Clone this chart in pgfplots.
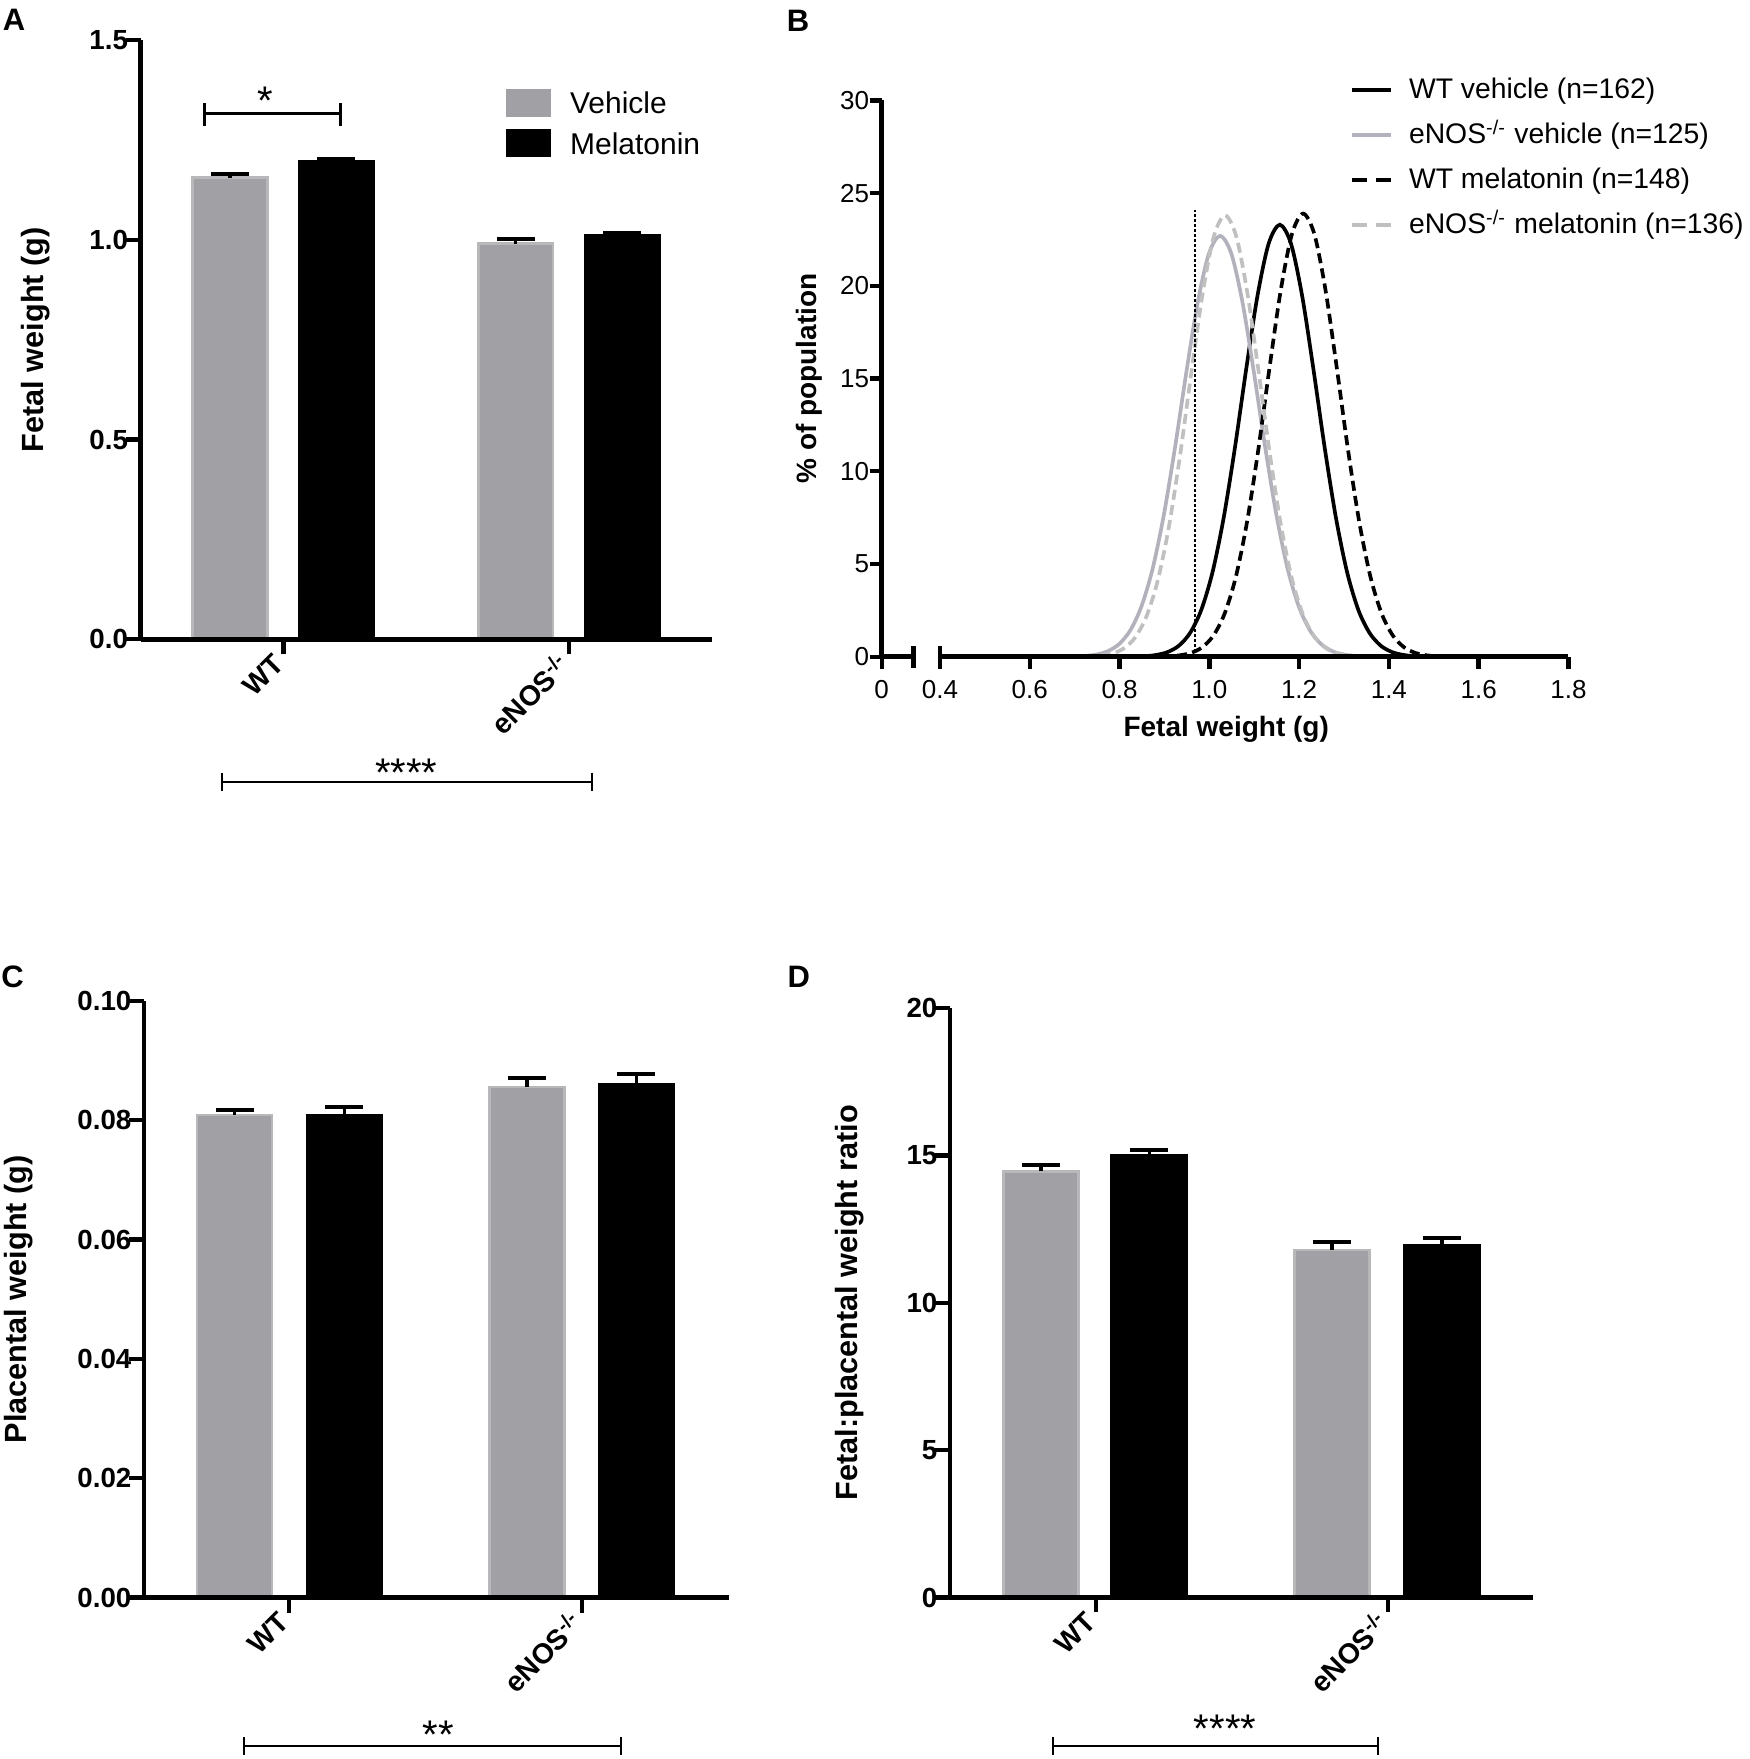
\documentclass[border=0pt]{standalone}
\usepackage{pgfplots}
\pgfplotsset{compat=1.18}
\usepackage{fontspec}
\setmainfont{Liberation Sans}

\definecolor{barGray}{RGB}{161,161,165}
\definecolor{barEdge}{RGB}{184,184,186}
\definecolor{lineGray}{RGB}{178,178,188}
\definecolor{dashGray}{RGB}{192,192,192}

\newcommand{\fs}[1]{\fontsize{#1}{#1}\selectfont}

\pgfplotsset{
  barpanel/.style={
    scale only axis, axis on top, clip=false,
    axis lines=left, axis line style={-, line width=1.4pt},
    tick align=outside, major tick length=4.5pt,
    tick style={line width=1.3pt, black},
    xtick={0,1}, xticklabels={WT, eNOS\textsuperscript{-/-}},
    xticklabel style={rotate=45, anchor=east, xshift=1.5pt, font=\bfseries\fs{8.5}},
    yticklabel style={font=\bfseries\fs{8.3}, inner xsep=0pt, xshift=0.9pt},
    ylabel style={font=\bfseries\fs{9.2}, anchor=center},
    /pgf/number format/assume math mode=true,
    scaled y ticks=false,
    ymin=0,
  },
  errstyle/.style={
    error bars/y dir=plus, error bars/y explicit, error bars/error mark=|,
    error bars/error bar style={line width=1pt, black},
    error bars/error mark options={line width=1.2pt, black, mark size=5.7pt},
  },
  vehbar/.style={ybar, bar shift=0pt, fill=barGray, draw=barEdge, line width=0.8pt, errstyle,
    legend image code/.code={\path[use as bounding box, draw=none] (0pt,0pt) rectangle (13.5pt,0pt);
      \fill[barGray, draw=none] (0pt,-4.2pt) rectangle (13.5pt,4.2pt);}},
  melbar/.style={ybar, bar shift=0pt, fill=black, draw=black, line width=0.8pt, errstyle,
    legend image code/.code={\path[use as bounding box, draw=none] (0pt,0pt) rectangle (13.5pt,0pt);
      \fill[black, draw=none] (0pt,-4.2pt) rectangle (13.5pt,4.2pt);}},
}

\begin{document}
\begin{tikzpicture}
\path[use as bounding box] (0,0) rectangle (525pt,527.7pt);

% ---------------- Panel A ----------------
\begin{axis}[barpanel, at={(42.18pt,335.91pt)}, anchor=south west,
  width=171.33pt, height=179.79pt, xmin=-0.5005, xmax=1.4998, ymax=1.5,
  ytick={0,0.5,1,1.5}, yticklabels={0.0,0.5,1.0,1.5},
  ylabel={Fetal weight (g)},
  ylabel style={at={(axis description cs:-0.1846,0.5)}},
  legend style={at={(0.640,0.9134)}, anchor=north west, draw=none, fill=none,
    inner sep=0pt, outer sep=0pt, column sep=5.7pt, row sep=5.5pt, font=\fs{9},
    nodes={inner sep=0pt, text height=6.6pt, text depth=0pt}},
  legend cell align=left]
\addplot[vehbar, bar width=0.262] coordinates {(-0.187,1.155) +- (0,0.010) (0.813,0.990) +- (0,0.013)};
\addlegendentry{Vehicle}
\addplot[melbar, bar width=0.262] coordinates {(0.185,1.196) +- (0,0.005) (1.187,1.010) +- (0,0.007)};
\addlegendentry{Melatonin}
\end{axis}

% ---------------- Panel B ----------------
\begin{axis}[scale only axis, clip=false, at={(264.51pt,330.69pt)}, anchor=south west,
  width=206.01pt, height=166.86pt, xmin=0.270, xmax=1.8, ymin=0, ymax=30,
  axis x line=bottom, axis y line=left, axis line style={-, line width=1.4pt},
  x axis line style={draw=none},
  tick align=outside, major tick length=3.6pt, tick style={line width=1.3pt, black},
  xtick={0.270,0.4,0.6,0.8,1.0,1.2,1.4,1.6,1.8},
  xticklabels={0,0.4,0.6,0.8,1.0,1.2,1.4,1.6,1.8},
  ytick={0,5,10,15,20,25,30},
  tick label style={font=\fs{7.8}},
  yticklabel style={inner xsep=0pt},
  /pgf/number format/assume math mode=true,
  xlabel={Fetal weight (g)},
  xlabel style={at={(axis description cs:0.5017,-0.1307)}, anchor=center, font=\bfseries\fs{8.4}},
  ylabel={\% of population},
  ylabel style={at={(axis description cs:-0.1048,0.5)}, anchor=center, font=\bfseries\fs{8.4}},
  legend style={at={(0.6849,1.0419)}, anchor=north west, draw=none, fill=none,
    inner sep=0pt, outer sep=0pt, column sep=5.4pt, row sep=5.2pt, font=\fs{8.5},
    nodes={inner sep=0pt, text height=6.5pt, text depth=1.8pt}},
  legend cell align=left]
\addplot[black, line width=1.1pt, smooth,
  legend image code/.code={\path[use as bounding box, draw=none] (0pt,0pt) rectangle (11.7pt,0pt);
    \draw[black, line width=1.4pt, solid] (0pt,0.3pt) -- (11.7pt,0.3pt);}]
  coordinates {(0.80,0) (0.857,0.034) (0.882,0.096) (0.907,0.250) (0.932,0.591) (0.957,1.278)
  (0.982,2.52) (1.007,4.55) (1.032,7.50) (1.057,11.27) (1.082,15.49) (1.107,19.43) (1.132,22.27)
  (1.157,23.3) (1.182,22.27) (1.207,19.43) (1.232,15.49) (1.257,11.27) (1.282,7.50) (1.307,4.55)
  (1.332,2.52) (1.357,1.278) (1.382,0.591) (1.407,0.250) (1.432,0.096) (1.457,0.034) (1.51,0)};
\addlegendentry{WT vehicle (n=162)}
\addplot[lineGray, line width=1.1pt, smooth,
  legend image code/.code={\path[use as bounding box, draw=none] (0pt,0pt) rectangle (11.7pt,0pt);
    \draw[lineGray, line width=1.4pt, solid] (0pt,0.3pt) -- (11.7pt,0.3pt);}]
  coordinates {(0.65,0) (0.699,0.015) (0.724,0.045) (0.749,0.121) (0.774,0.300) (0.799,0.683)
  (0.824,1.425) (0.849,2.73) (0.874,4.78) (0.899,7.70) (0.924,11.36) (0.949,15.38) (0.974,19.09)
  (0.999,21.74) (1.024,22.7) (1.049,21.74) (1.074,19.09) (1.099,15.38) (1.124,11.36) (1.149,7.70)
  (1.174,4.78) (1.199,2.73) (1.224,1.425) (1.249,0.683) (1.274,0.300) (1.299,0.121) (1.324,0.045)
  (1.349,0.015) (1.40,0)};
\addlegendentry{eNOS\textsuperscript{-/-} vehicle (n=125)}
\addplot[black, line width=1.1pt, smooth, dash pattern=on 3pt off 1.6pt,
  legend image code/.code={\path[use as bounding box, draw=none] (0pt,0pt) rectangle (11.7pt,0pt);
    \draw[black, line width=1.4pt, dash pattern=on 4.5pt off 2.7pt] (0pt,0.3pt) -- (11.7pt,0.3pt);}]
  coordinates {(0.86,0) (0.909,0.025) (0.934,0.075) (0.959,0.204) (0.984,0.505) (1.009,1.134)
  (1.034,2.32) (1.059,4.30) (1.084,7.27) (1.109,11.15) (1.134,15.57) (1.159,19.75) (1.184,22.79)
  (1.209,23.9) (1.234,22.79) (1.259,19.75) (1.284,15.57) (1.309,11.15) (1.334,7.27) (1.359,4.30)
  (1.384,2.32) (1.409,1.134) (1.434,0.505) (1.459,0.204) (1.484,0.075) (1.509,0.025) (1.56,0)};
\addlegendentry{WT melatonin (n=148)}
\addplot[dashGray, line width=1.1pt, smooth, dash pattern=on 3pt off 1.6pt,
  legend image code/.code={\path[use as bounding box, draw=none] (0pt,0pt) rectangle (11.7pt,0pt);
    \draw[dashGray, line width=1.4pt, dash pattern=on 4.5pt off 2.7pt] (0pt,0.3pt) -- (11.7pt,0.3pt);}]
  coordinates {(0.69,0) (0.735,0.021) (0.760,0.065) (0.785,0.180) (0.810,0.456) (0.835,1.046)
  (0.860,2.18) (0.885,4.10) (0.910,7.02) (0.935,10.90) (0.960,15.34) (0.985,19.58) (1.010,22.67)
  (1.035,23.8) (1.060,22.67) (1.085,19.58) (1.110,15.34) (1.135,10.90) (1.160,7.02) (1.185,4.10)
  (1.210,2.18) (1.235,1.046) (1.260,0.456) (1.285,0.180) (1.310,0.065) (1.335,0.021) (1.38,0)};
\addlegendentry{eNOS\textsuperscript{-/-} melatonin (n=136)}
\addplot[black, line width=0.75pt, dash pattern=on 0.75pt off 0.75pt, forget plot]
  coordinates {(0.968,0) (0.968,24.1)};
% broken x axis line
\draw[line width=1.4pt] (axis cs:0.270,0) -- (axis cs:0.3405,0);
\draw[line width=1.4pt] (axis cs:0.4,0) -- (axis cs:1.8,0);
\draw[line width=1.3pt] (axis cs:0.3405,0) ++(0pt,-3.3pt) -- ++(0pt,6.6pt);
\draw[line width=1.3pt] (axis cs:0.4,0) ++(0pt,-3.3pt) -- ++(0pt,6.6pt);
\end{axis}

% ---------------- Panel C ----------------
\begin{axis}[barpanel, at={(43.2pt,48.45pt)}, anchor=south west,
  width=175.5pt, height=178.95pt, xmin=-0.495, xmax=1.502, ymax=0.1,
  ytick={0,0.02,0.04,0.06,0.08,0.1}, yticklabels={0.00,0.02,0.04,0.06,0.08,0.10},
  ylabel={Placental weight (g)},
  ylabel style={at={(axis description cs:-0.2148,0.5)}}]
\addplot[vehbar, bar width=0.255] coordinates {(-0.186,0.0809) +- (0,0.0009) (0.812,0.0856) +- (0,0.0015)};
\addplot[melbar, bar width=0.255] coordinates {(0.189,0.0808) +- (0,0.0014) (1.186,0.0861) +- (0,0.0016)};
\end{axis}

% ---------------- Panel D ----------------
\begin{axis}[barpanel, at={(285pt,48.45pt)}, anchor=south west,
  width=174.9pt, height=176.85pt, xmin=-0.5, xmax=1.497, ymax=20,
  ytick={0,5,10,15,20},
  ylabel={Fetal:placental weight ratio},
  ylabel style={at={(axis description cs:-0.1715,0.5)}}]
\addplot[vehbar, bar width=0.258] coordinates {(-0.188,14.46) +- (0,0.21) (0.808,11.79) +- (0,0.27)};
\addplot[melbar, bar width=0.258] coordinates {(0.183,14.99) +- (0,0.19) (1.185,11.96) +- (0,0.25)};
\end{axis}

% ---------------- annotations (pixel coordinates) ----------------
\begin{scope}[x=0.3pt, y=-0.3pt, shift={(0pt,527.7pt)}]
  \node[font=\bfseries\fs{9.3}] at (14,20) {A};
  \node[font=\bfseries\fs{9.3}] at (798,20.5) {B};
  \node[font=\bfseries\fs{9.3}] at (12.5,977) {C};
  \node[font=\bfseries\fs{9.3}] at (798.7,977) {D};
  % A: * bracket
  \draw[line width=0.9pt] (204.3,103.3) -- (204.3,125.7);
  \draw[line width=0.9pt] (204.3,113.3) -- (340,113.3);
  \draw[line width=0.9pt] (340,103.3) -- (340,125.7);
  \node[anchor=base, font=\fs{12}, inner sep=0pt] at (265.7,114.1) {*};
  % A: bottom bracket
  \draw[line width=0.6pt] (221.7,772.7) -- (221.7,790.7);
  \draw[line width=0.6pt] (221.7,781.7) -- (591.7,781.7);
  \draw[line width=0.6pt] (591.7,772.7) -- (591.7,790.7);
  \node[anchor=base, font=\fs{12}, inner sep=0pt] at (406.3,786.6) {****};
  % C bracket
  \draw[line width=0.6pt] (244,1737) -- (244,1755);
  \draw[line width=0.6pt] (244,1746) -- (621,1746);
  \draw[line width=0.6pt] (621,1737) -- (621,1755);
  \node[anchor=base, font=\fs{12}, inner sep=0pt] at (438,1748.8) {**};
  % D bracket
  \draw[line width=0.6pt] (1053,1737) -- (1053,1755);
  \draw[line width=0.6pt] (1053,1746) -- (1378,1746);
  \draw[line width=0.6pt] (1378,1737) -- (1378,1755);
  \node[anchor=base, font=\fs{12}, inner sep=0pt] at (1225,1742.8) {****};
\end{scope}
\end{tikzpicture}
\end{document}
